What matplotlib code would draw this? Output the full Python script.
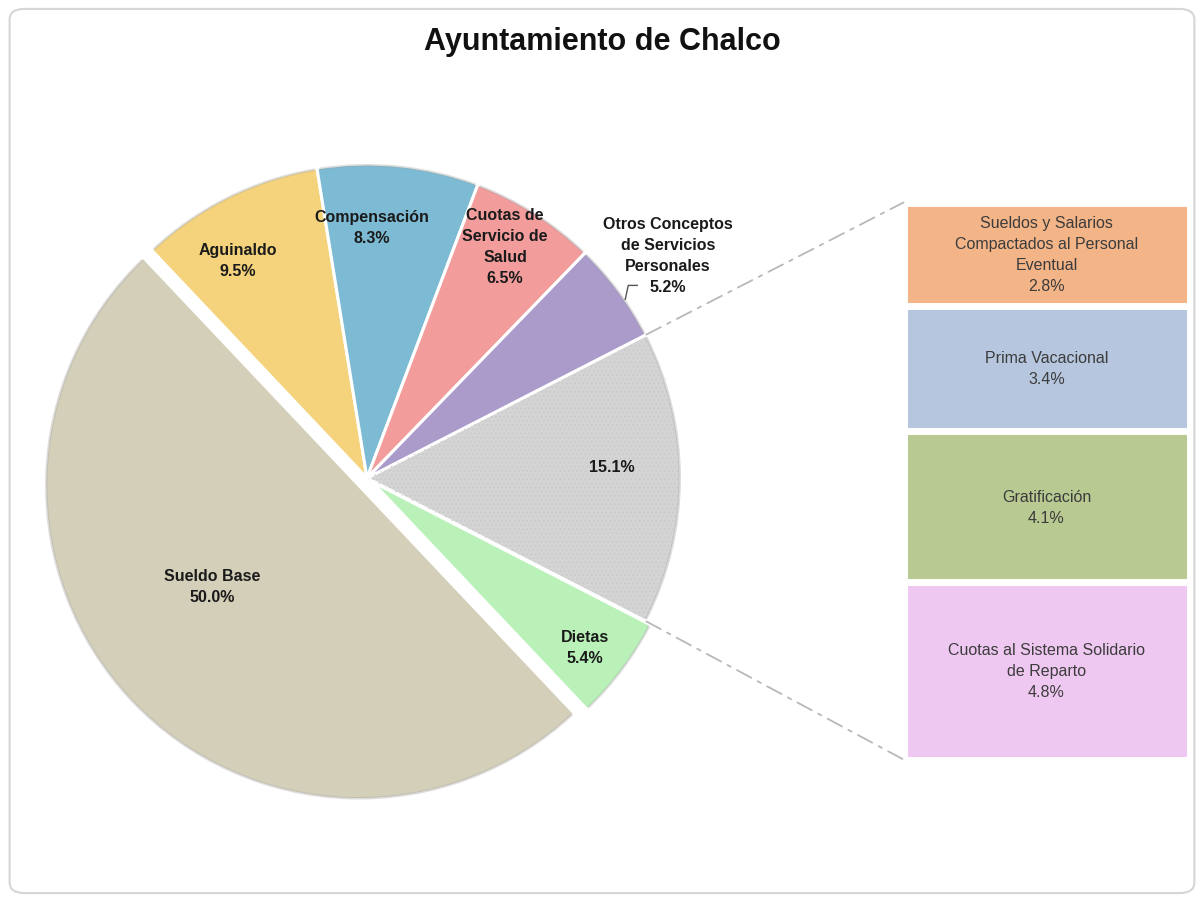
import numpy as np
import matplotlib.pyplot as plt
from matplotlib.patches import FancyBboxPatch, ConnectionPatch, Wedge

plt.rcParams['font.family'] = ['Liberation Sans', 'DejaVu Sans']
plt.rcParams['hatch.linewidth'] = 0.5

# pie data (clockwise from the "other" slice at 3 o'clock)
pie_labels = ['', 'Dietas', 'Sueldo Base', 'Aguinaldo', 'Compensación',
              'Cuotas de\nServicio de\nSalud', 'Otros Conceptos\nde Servicios\nPersonales']
pie_values = [15.1, 5.4, 50.0, 9.5, 8.3, 6.5, 5.2]
pie_colors = ['#d4d4d4', '#b9f1b9', '#d4cfb8', '#f4d37c', '#7cbbd3', '#f29c9c', '#aa9bcb']
pie_explode = [0, 6, 11, 0, 0, 0, 0]  # offsets in pixels
# label positions in pixels
pie_label_pos = [(612, 468), (585, 648), (212, 587), (238, 261), (372, 228),
                 (505, 247), (668, 256)]

# bar data (bottom to top)
bar_labels = ['Cuotas al Sistema Solidario\nde Reparto', 'Gratificación', 'Prima Vacacional',
              'Sueldos y Salarios\nCompactados al Personal\nEventual']
bar_values = [4.8, 4.1, 3.4, 2.8]
bar_colors = ['#efc8f2', '#b8c992', '#b5c6de', '#f3b588']

W, H = 1204, 904
fig = plt.figure(figsize=(W / 100, H / 100), dpi=100)
ax = fig.add_axes([0, 0, 1, 1])

center, R = (367, 479), 314
start = -pie_values[0] / sum(pie_values) * 180
wedges, _ = ax.pie(pie_values, colors=pie_colors, explode=pie_explode, startangle=start,
                   counterclock=True, center=center, radius=R, frame=True,
                   wedgeprops=dict(edgecolor='white', linewidth=2.2))
ax.set_xlim(0, W)
ax.set_ylim(H, 0)
ax.set_aspect('equal')
ax.axis('off')

# faint dotted texture on the "other" slice
w0 = wedges[0]
ax.add_patch(Wedge(w0.center, w0.r - 2, w0.theta1 + 0.5, w0.theta2 - 0.5, fc='none',
                   ec='#c8c8c8', lw=0, hatch='....'))
# soft grey rim on the outer arcs
for w in wedges:
    ax.add_patch(Wedge(w.center, w.r, w.theta1 + 0.4, w.theta2 - 0.4, width=2.5,
                       fc='#a0a0a0', ec='none', alpha=0.35))

for lab, val, pos in zip(pie_labels, pie_values, pie_label_pos):
    txt = f'{lab}\n{val:.1f}%' if lab else f'{val:.1f}%'
    ax.text(pos[0], pos[1], txt, ha='center', va='center', fontsize=11.5,
            fontweight='bold', color='#1a1a1a', linespacing=1.5)

# leader line for "Otros Conceptos"
w6 = wedges[6]
a = np.deg2rad(w6.theta1 + 0.6 * (w6.theta2 - w6.theta1))
p = (w6.center[0] + w6.r * np.cos(a), w6.center[1] + w6.r * np.sin(a))
ax.plot([p[0], p[0] + 3, p[0] + 12], [p[1], p[1] - 14, p[1] - 14], color='#555555', lw=1)

ax.text(W / 2, 42, 'Ayuntamiento de Chalco', ha='center', va='center', fontsize=22,
        fontweight='bold', color='#111111')

# stacked bar
bx0, bx1, by0, by1 = 903.5, 1189.5, 203.5, 760.5
bax = fig.add_axes([bx0 / W, 1 - by1 / H, (bx1 - bx0) / W, (by1 - by0) / H])
bottoms = np.concatenate([[0], np.cumsum(bar_values)[:-1]])
bars = bax.bar([0] * len(bar_values), bar_values, bottom=bottoms, width=1,
               color=bar_colors, edgecolor='white', linewidth=5)
bax.set_xlim(-0.5, 0.5)
bax.set_ylim(0, sum(bar_values))
bax.axis('off')
bax.bar_label(bars, labels=[f'{l}\n{v:.1f}%' for l, v in zip(bar_labels, bar_values)],
              label_type='center', fontsize=11.5, color='#3c3c3c', linespacing=1.5)

# connectors from the "other" slice to the bar
for ang, yb in [(w0.theta1, sum(bar_values)), (w0.theta2, 0)]:
    t = np.deg2rad(ang)
    pa = (w0.center[0] + w0.r * np.cos(t), w0.center[1] + w0.r * np.sin(t))
    con = ConnectionPatch(xyA=pa, coordsA=ax.transData, xyB=(-0.5, yb), coordsB=bax.transData,
                          color='#b8b8b8', lw=1.3, linestyle=(0, (9, 4, 2, 4)))
    fig.add_artist(con)

# rounded outer border
fig.add_artist(FancyBboxPatch((0.008, 0.011), 0.984, 0.978, transform=fig.transFigure,
                              boxstyle='round,pad=0,rounding_size=0.012',
                              fc='none', ec='#d6d6d6', lw=1.5))

fig.savefig('out.png', dpi=100)
